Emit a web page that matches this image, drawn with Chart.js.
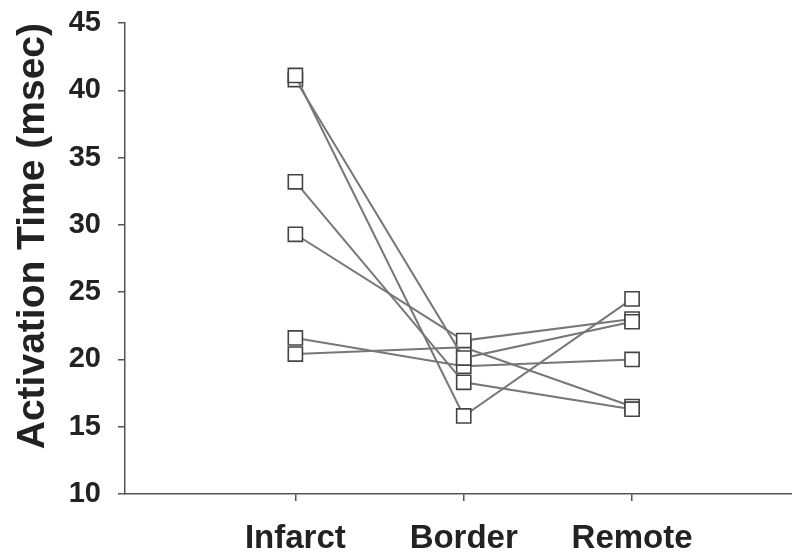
<!DOCTYPE html>
<html>
<head>
<meta charset="utf-8">
<script src="https://cdn.jsdelivr.net/npm/chart.js@4/dist/chart.umd.min.js"></script>
<style>
  html, body { margin: 0; padding: 0; background: #fff; }
  #wrap { width: 792px; height: 558px; }
</style>
</head>
<body>
<div id="wrap"><canvas id="chart" width="792" height="558"></canvas></div>
<script>
const categories = ["Infarct", "Border", "Remote"];
const yTicks = [10, 15, 20, 25, 30, 35, 40, 45];

// one value per subject at each site
const infarct = [41.1, 40.8, 33.2, 29.3, 21.6, 20.4];
const border  = [15.8, 20.1, 18.3, 21.4, 19.5, 20.9];
const remote  = [24.5, 22.8, 16.3, 23.0, 20.0, 16.5];

const ink = "#222";
const lineGrey = "#777";

const datasets = infarct.map((v, i) => ({
  data: [infarct[i], border[i], remote[i]].map((y, k) => ({ x: k + 1, y })),
  borderColor: lineGrey,
  borderWidth: 2,
  pointStyle: "rect",
  pointRadius: 10,
  pointHoverRadius: 10,
  pointBackgroundColor: "#fff",
  pointBorderColor: "#444",
  pointBorderWidth: 1.6,
  fill: false,
  tension: 0,
}));

new Chart(document.getElementById("chart").getContext("2d"), {
  type: "line",
  data: { datasets },
  options: {
    responsive: false,
    devicePixelRatio: 1,
    animation: false,
    events: [],
    layout: { autoPadding: false, padding: { top: 23, right: 0, bottom: 0, left: 0 } },
    plugins: { legend: { display: false }, tooltip: { enabled: false } },
    scales: {
      x: {
        type: "linear",
        min: -0.012,
        max: 3.95,
        afterBuildTicks: (s) => { s.ticks = categories.map((c, i) => ({ value: i + 1 })); },
        afterFit: (s) => { s.height = 64; s.paddingLeft = 0; s.paddingRight = 0; },
        ticks: {
          autoSkip: false,
          maxRotation: 0,
          padding: 18,
          color: ink,
          font: { family: "'Liberation Sans', Arial, sans-serif", size: 33, weight: "bold" },
          callback: (v) => categories[v - 1],
        },
        grid: { drawOnChartArea: false, drawTicks: true, tickLength: 7, color: "#555", lineWidth: 1.5 },
        border: { display: true, color: "#555", width: 1.5 },
      },
      y: {
        min: 10,
        max: 45,
        afterBuildTicks: (s) => { s.ticks = yTicks.map(v => ({ value: v })); },
        afterFit: (s) => { s.width = 125; s.paddingTop = 0; s.paddingBottom = 0; },
        ticks: {
          padding: 17,
          color: ink,
          font: { family: "'Liberation Sans', Arial, sans-serif", size: 29, weight: "bold" },
        },
        grid: { drawOnChartArea: false, drawTicks: true, tickLength: 7, color: "#555", lineWidth: 1.5 },
        border: { display: true, color: "#555", width: 1.5 },
        title: {
          display: true,
          text: "Activation Time (msec)",
          align: "end",
          color: ink,
          padding: { top: 10, bottom: 0 },
          font: { family: "'Liberation Sans', Arial, sans-serif", size: 39, weight: "bold" },
        },
      },
    },
  },
});
</script>
</body>
</html>
